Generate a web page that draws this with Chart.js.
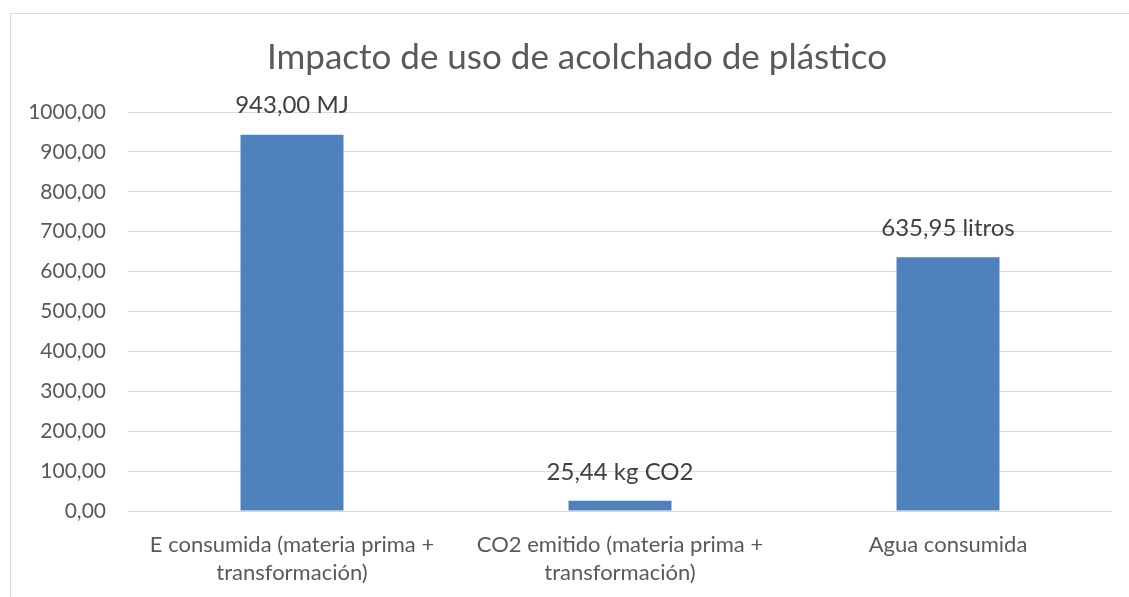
<!DOCTYPE html>
<html>
<head>
<meta charset="utf-8">
<script src="https://cdn.jsdelivr.net/npm/chart.js@4/dist/chart.umd.min.js"></script>
<style>
  html, body { margin: 0; padding: 0; background: #ffffff; overflow: hidden; width: 1129px; height: 597px; }
  #frame { position: absolute; left: 10px; top: 13px; width: 1132px; height: 600px; border: 1px solid #d9d9d9; background: #fff; }
  #frame canvas { display: block; }
</style>
</head>
<body>
<div id="frame"><canvas id="chart" width="1132" height="600"></canvas></div>
<script>
// Categories, values and the value labels printed above each bar
const categories = [
  ['E consumida (materia prima +', 'transformación)'],
  ['CO2 emitido (materia prima +', 'transformación)'],
  ['Agua consumida']
];
const values = [943.00, 25.44, 635.95];
const valueLabels = ['943,00 MJ', '25,44 kg CO2', '635,95 litros'];
const chartTitle = 'Impacto de uso de acolchado de plástico';
const yMin = 0, yMax = 1000, yStep = 100;

const FONT = 'Lato, "Open Sans", sans-serif';

// Prints the labels above the bars
const barLabels = {
  id: 'barLabels',
  afterDatasetsDraw(chart) {
    const ctx = chart.ctx;
    const meta = chart.getDatasetMeta(0);
    ctx.save();
    ctx.font = '24px ' + FONT;
    ctx.fillStyle = '#404040';
    ctx.textAlign = 'center';
    ctx.textBaseline = 'middle';
    meta.data.forEach((bar, i) => {
      ctx.fillText(valueLabels[i], bar.x, bar.y - 29);
    });
    ctx.restore();
  }
};

new Chart(document.getElementById('chart'), {
  type: 'bar',
  data: {
    labels: categories,
    datasets: [{
      data: values,
      backgroundColor: '#4f81bd',
      borderWidth: 0,
      barPercentage: 0.314,
      categoryPercentage: 1.0
    }]
  },
  options: {
    responsive: false,
    animation: false,
    layout: { padding: 0 },
    plugins: {
      legend: { display: false },
      tooltip: { enabled: false },
      title: {
        display: true,
        text: chartTitle,
        color: '#595959',
        font: { family: FONT, size: 35, weight: 'normal', lineHeight: 1.2 },
        padding: { top: 23, bottom: 33 }
      }
    },
    scales: {
      x: {
        grid: { display: false, drawTicks: false },
        border: { display: false },
        ticks: {
          color: '#595959',
          font: { family: FONT, size: 22, lineHeight: 1.27 },
          padding: 20,
          maxRotation: 0,
          autoSkip: false
        },
        afterFit(scale) { scale.height = 103; }
      },
      y: {
        min: yMin,
        max: yMax,
        grid: { color: '#d9d9d9', lineWidth: 1, drawTicks: false },
        border: { display: false },
        ticks: {
          stepSize: yStep,
          color: '#595959',
          font: { family: FONT, size: 21 },
          padding: 22,
          callback: v => v.toFixed(2).replace('.', ',')
        },
        afterFit(scale) { scale.width = 117; }
      },
      // empty right-hand margin beside the plot, keeps the title centred on the frame
      yRight: {
        position: 'right',
        min: yMin,
        max: yMax,
        grid: { display: false, drawTicks: false },
        border: { display: false },
        ticks: { display: false },
        afterFit(scale) { scale.width = 31; }
      }
    }
  },
  plugins: [barLabels]
});
</script>
</body>
</html>
